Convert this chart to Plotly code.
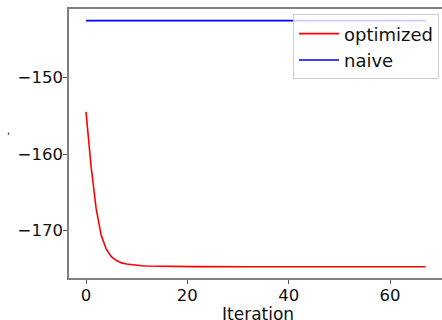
import plotly.graph_objects as go

iterations = list(range(68))

optimized = [
    -154.5, -161.6, -167.1, -170.6, -172.4, -173.4, -173.9, -174.2,
    -174.35, -174.45, -174.52, -174.57, -174.6, -174.62, -174.64, -174.65,
    -174.66, -174.67, -174.68, -174.68, -174.69, -174.69, -174.69, -174.7,
    -174.7, -174.7, -174.7, -174.7, -174.7, -174.7, -174.7, -174.7,
    -174.7, -174.7, -174.7, -174.7, -174.7, -174.7, -174.7, -174.7,
    -174.7, -174.7, -174.7, -174.7, -174.7, -174.7, -174.7, -174.7,
    -174.7, -174.7, -174.7, -174.7, -174.7, -174.7, -174.7, -174.7,
    -174.7, -174.7, -174.7, -174.7, -174.7, -174.7, -174.7, -174.7,
    -174.7, -174.7, -174.7, -174.7,
]

naive = [
    -142.6, -142.6, -142.6, -142.6, -142.6, -142.6, -142.6, -142.6,
    -142.6, -142.6, -142.6, -142.6, -142.6, -142.6, -142.6, -142.6,
    -142.6, -142.6, -142.6, -142.6, -142.6, -142.6, -142.6, -142.6,
    -142.6, -142.6, -142.6, -142.6, -142.6, -142.6, -142.6, -142.6,
    -142.6, -142.6, -142.6, -142.6, -142.6, -142.6, -142.6, -142.6,
    -142.6, -142.6, -142.6, -142.6, -142.6, -142.6, -142.6, -142.6,
    -142.6, -142.6, -142.6, -142.6, -142.6, -142.6, -142.6, -142.6,
    -142.6, -142.6, -142.6, -142.6, -142.6, -142.6, -142.6, -142.6,
    -142.6, -142.6, -142.6, -142.6,
]

x_ticks = [0, 20, 40, 60]
y_ticks = [-150, -160, -170]
x_label = "Iteration"
y_label = "-"

FONT = "DejaVu Sans"
TXT = "#111111"

fig = go.Figure()
fig.add_trace(go.Scatter(x=iterations, y=optimized, mode="lines", name="optimized",
                         line=dict(color="#ff0000", width=1.6)))
fig.add_trace(go.Scatter(x=iterations, y=naive, mode="lines", name="naive",
                         line=dict(color="#0000ff", width=1.6)))

fig.update_layout(
    width=442, height=320,
    margin=dict(l=69, r=0, t=9, b=42),
    paper_bgcolor="white", plot_bgcolor="white",
    font=dict(family=FONT, size=17, color=TXT),
    legend=dict(
        x=0.992, y=0.98, xanchor="right", yanchor="top",
        bgcolor="rgba(255,255,255,0.8)", bordercolor="#cccccc", borderwidth=1,
        font=dict(family=FONT, size=18, color=TXT),
        itemwidth=40, tracegroupgap=0,
    ),
    showlegend=True,
    annotations=[
        dict(text=y_label, xref="paper", yref="paper", x=-0.185, y=0.539,
             showarrow=False, textangle=-90,
             font=dict(family=FONT, size=10, color=TXT)),
        dict(text=x_label, xref="paper", yref="paper", x=0.507, y=-0.089,
             xanchor="center", yanchor="top", showarrow=False,
             font=dict(family=FONT, size=17, color=TXT)),
    ],
)

fig.update_xaxes(
    range=[-3.355, 70.26], tickvals=x_ticks, showgrid=False, zeroline=False,
    showline=True, linecolor="#808080", linewidth=1.6, mirror=True,
    ticks="outside", ticklen=4, tickcolor="#555", tickwidth=1,
    ticklabelstandoff=-3,
    tickfont=dict(family=FONT, size=16.5, color=TXT),
    automargin=False,
)
fig.update_yaxes(
    range=[-176.17, -141.09], tickvals=y_ticks, showgrid=False, zeroline=False,
    showline=True, linecolor="#808080", linewidth=1.6,
    ticks="outside", ticklen=4, tickcolor="#555", tickwidth=1,
    ticklabelstandoff=-3,
    tickfont=dict(family=FONT, size=16.5, color=TXT),
    automargin=False,
)

fig.write_html("out.html", config={"displayModeBar": False},
               post_script="document.body.style.margin='0';")
